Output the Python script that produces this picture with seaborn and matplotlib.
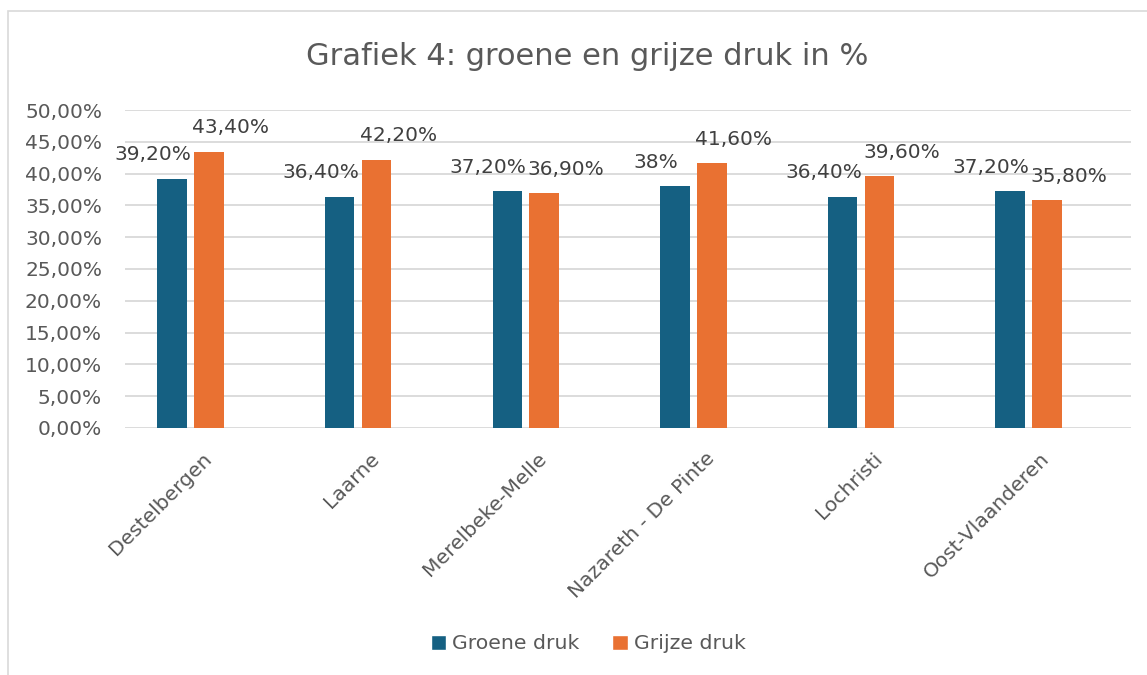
import matplotlib
matplotlib.use("Agg")
import matplotlib.pyplot as plt
import seaborn as sns
import pandas as pd
from matplotlib.patches import Rectangle, Patch
from matplotlib.ticker import FuncFormatter
from matplotlib.transforms import ScaledTranslation

gemeenten = ["Destelbergen", "Laarne", "Merelbeke-Melle", "Nazareth - De Pinte", "Lochristi", "Oost-Vlaanderen"]
groene_druk = [39.2, 36.4, 37.2, 38.0, 36.4, 37.2]
grijze_druk = [43.4, 42.2, 36.9, 41.6, 39.6, 35.8]
reeksen = ["Groene druk", "Grijze druk"]
lege_reeks = " "  # hidden third series in the original chart (reserves a slot)
titel = "Grafiek 4: groene en grijze druk in %"

BLUE = "#156082"
ORANGE = "#E97132"
TXT = "#595959"
LBL = "#404040"

df = pd.DataFrame({
    "gemeente": gemeenten * 2,
    "waarde": groene_druk + grijze_druk,
    "reeks": [reeksen[0]] * len(gemeenten) + [reeksen[1]] * len(gemeenten),
})

sns.set_theme(style="white")
plt.rcParams["font.family"] = ["DejaVu Sans"]

fig = plt.figure(figsize=(11.47, 6.75), dpi=100)
ax = fig.add_axes([0.109, 0.366, 0.877, 0.471])

sns.barplot(data=df, x="gemeente", y="waarde", hue="reeks",
            hue_order=reeksen + [lege_reeks],
            palette=[BLUE, ORANGE, "white"],
            width=0.66, gap=0.2, saturation=1, legend=False, ax=ax, linewidth=0)

ax.set_xlim(-0.5, len(gemeenten) - 0.5)
ax.set_ylim(0, 50)
ax.set_yticks(range(0, 51, 5))
ax.yaxis.set_major_formatter(FuncFormatter(lambda v, p: f"{v:.2f}".replace(".", ",") + "%"))
ax.grid(axis="y", color="#D9D9D9", linewidth=1.3)
ax.set_axisbelow(True)
for s in ax.spines.values():
    s.set_visible(False)
ax.set_xlabel("")
ax.set_ylabel("")
ax.tick_params(axis="y", length=0, labelsize=14.5, labelcolor=TXT, pad=16.5)
ax.tick_params(axis="x", length=0, labelsize=14.6, labelcolor=TXT, pad=15)
shift = ScaledTranslation(-7 / 100, 0, fig.dpi_scale_trans)
for t in ax.get_xticklabels():
    t.set_rotation(45)
    t.set_ha("right")
    t.set_rotation_mode("anchor")
    t.set_transform(t.get_transform() + shift)

def fmt(v):
    if float(v).is_integer():
        return f"{int(v)}%"
    return f"{v:.2f}".replace(".", ",") + "%"

offsets = [-19, 22]
for ci, cont in enumerate(ax.containers[:2]):
    for bar in cont:
        h = bar.get_height()
        ax.annotate(fmt(h), (bar.get_x() + bar.get_width() / 2, h),
                    xytext=(offsets[ci], 24), textcoords="offset pixels",
                    ha="center", va="center", fontsize=14.5, color=LBL)

fig.text(0.512, 0.916, titel, ha="center", va="center", fontsize=22, color=TXT)

handles = [Patch(facecolor=BLUE, label=reeksen[0]), Patch(facecolor=ORANGE, label=reeksen[1])]
fig.legend(handles=handles, loc="center", bbox_to_anchor=(0.513, 0.046), ncol=2, frameon=False,
           fontsize=14.7, handlelength=0.75, handleheight=0.75, handletextpad=0.3, columnspacing=1.6,
           labelcolor=TXT)

fig.patches.append(Rectangle((0.007, -0.02), 1.2, 0.984 + 0.02, transform=fig.transFigure,
                             fill=False, edgecolor="#D9D9D9", linewidth=1.2))

fig.savefig("out.png", dpi=100)
